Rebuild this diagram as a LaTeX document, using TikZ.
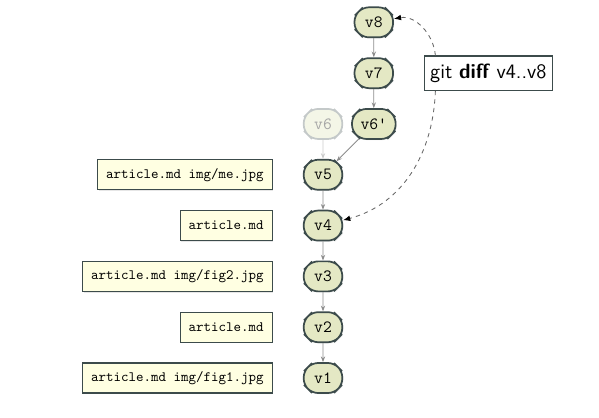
\documentclass[tikz,border=0pt]{standalone}
\usepackage{tikz}
\usetikzlibrary{arrows.meta}
\usetikzlibrary{positioning,shapes.misc,shadows}
\definecolor{commitfill}{HTML}{E4E8C4}
\definecolor{commitdraw}{HTML}{3C4B4B}
\definecolor{filefill}{HTML}{FFFFE2}
\tikzset{
    commit/.style={chamfered rectangle, chamfered rectangle xsep=3pt, rounded corners=4pt, draw=commitdraw, fill=commitfill, very thick, font=\large\ttfamily, minimum width=27pt, minimum height=21pt, inner xsep=3pt, drop shadow={shadow xshift=0.8pt, shadow yshift=-0.8pt, opacity=0.2}},
    ghost/.style={chamfered rectangle, chamfered rectangle xsep=3pt, rounded corners=4pt, draw=commitdraw!30, fill=commitfill!40, very thick, text=black!35, font=\large\ttfamily, minimum width=27pt, minimum height=21pt, inner xsep=3pt},
    filebox/.style={rectangle, draw=commitdraw, fill=filefill, thick, font=\ttfamily, minimum height=21pt, inner xsep=6pt, drop shadow={shadow xshift=0.8pt, shadow yshift=-0.8pt, opacity=0.2}},
    diffbox/.style={rectangle, draw=commitdraw, fill=white, thick, font=\Large\sffamily, minimum height=24pt, inner xsep=4pt, drop shadow={shadow xshift=0.8pt, shadow yshift=-0.8pt, opacity=0.2}},
    myarrow/.style={-{Stealth[length=4pt,width=3pt]}, draw=black!45, semithick},
    ghostarrow/.style={-{Stealth[length=4pt,width=3pt]}, draw=black!20, semithick},
    diffarrow/.style={-{Latex[length=5pt,width=4pt,black]}, dashed, draw=black!60, semithick}
}
\begin{document}
\begin{tikzpicture}[node distance=1.25cm,on grid]
    \useasboundingbox (-226.1pt,-27.3pt) rectangle (193.2pt,264.6pt);
    % commits
    \node[commit] (v1) {v1};
    \node[commit] (v2) [above =of v1] {v2};
    \node[commit] (v3) [above =of v2] {v3};
    \node[commit] (v4) [above =of v3] {v4};
    \node[commit] (v5) [above =of v4] {v5};
    \node[ghost]  (v6) [above =of v5] {v6};
    \node[commit] (v6p) [right =of v6] {v6'};
    \node[commit] (v7) [above =of v6p] {v7};
    \node[commit] (v8) [above =of v7] {v8};
    % files
    \node[filebox] (f1) [on grid=false, left =21pt of v1] {article.md img/fig1.jpg};
    \node[filebox] (f2) [on grid=false, left =21pt of v2] {article.md};
    \node[filebox] (f3) [on grid=false, left =21pt of v3] {article.md img/fig2.jpg};
    \node[filebox] (f4) [on grid=false, left =21pt of v4] {article.md};
    \node[filebox] (f5) [on grid=false, left =21pt of v5] {article.md img/me.jpg};
    \node[diffbox] (diff) [on grid=false, right =21pt of v7] {git \textbf{diff} v4..v8};
    \path (v8) edge [myarrow] (v7)
          (v7) edge [myarrow] (v6p)
          (v6p) edge [myarrow] (v5)
          (v6) edge [ghostarrow] (v5)
          (v5) edge [myarrow] (v4)
          (v4) edge [myarrow] (v3)
          (v3) edge [myarrow] (v2)
          (v2) edge [myarrow] (v1);
    \draw[diffarrow] ([xshift=8pt]diff.north west) to[out=95,in=10] (v8);
    \draw[diffarrow] ([xshift=8pt]diff.south west) to[out=-92,in=15] (v4);
\end{tikzpicture}
\end{document}
